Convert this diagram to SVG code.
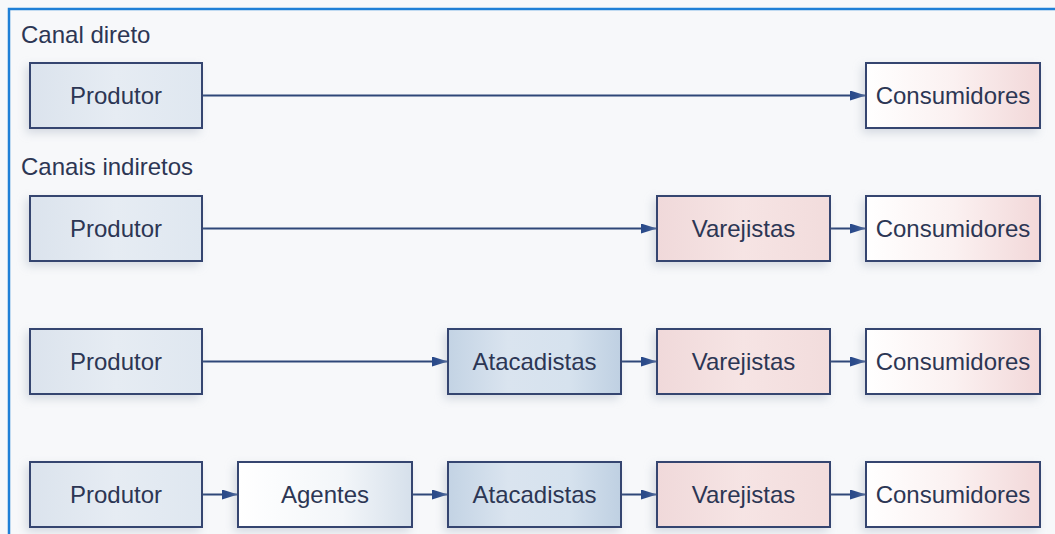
<svg xmlns="http://www.w3.org/2000/svg" width="1055" height="534" viewBox="0 0 1055 534">
<style>
.box{stroke:#34456f;stroke-width:2;}
.lbl{font-family:"Liberation Sans",Arial,sans-serif;font-size:24px;fill:#2c3654;text-anchor:middle;}
.hdr{font-family:"Liberation Sans",Arial,sans-serif;font-size:24px;fill:#2c3654;}
.conn{stroke:#2f4778;stroke-width:2;fill:none;marker-end:url(#arr);}
.prod{fill:url(#gProd);}
.agen{fill:url(#gAgen);}
.atac{fill:url(#gAtac);}
.varj{fill:url(#gVarj);}
.cons{fill:url(#gCons);}
.sh{filter:url(#shadow);}
</style>
<defs>
<marker id="arr" viewBox="0 0 16 10" refX="16" refY="5" markerWidth="16" markerHeight="10" markerUnits="userSpaceOnUse" orient="auto">
<path d="M0,0 L16,5 L0,10 Z" fill="#2a4a8a"/>
</marker>
<linearGradient id="gProd" x1="0" y1="0" x2="1" y2="0">
<stop offset="0" stop-color="#dbe3ed"/><stop offset="0.5" stop-color="#e6ecf3"/><stop offset="1" stop-color="#dfe7f0"/>
</linearGradient>
<linearGradient id="gAgen" x1="0" y1="0" x2="1" y2="0">
<stop offset="0" stop-color="#ffffff"/><stop offset="0.6" stop-color="#f3f6f9"/><stop offset="1" stop-color="#d6e0eb"/>
</linearGradient>
<linearGradient id="gAtac" x1="0" y1="0" x2="1" y2="0">
<stop offset="0" stop-color="#c3d3e4"/><stop offset="0.35" stop-color="#dae4ef"/><stop offset="0.7" stop-color="#d6e2ee"/><stop offset="1" stop-color="#bfd0e2"/>
</linearGradient>
<linearGradient id="gVarj" x1="0" y1="0" x2="1" y2="0">
<stop offset="0" stop-color="#f0d9da"/><stop offset="0.5" stop-color="#f6e4e4"/><stop offset="1" stop-color="#f2dcdc"/>
</linearGradient>
<linearGradient id="gCons" x1="0" y1="0" x2="1" y2="0">
<stop offset="0" stop-color="#ffffff"/><stop offset="0.5" stop-color="#fbf1f1"/><stop offset="1" stop-color="#f2d8d9"/>
</linearGradient>
<filter id="shadow" x="-20%" y="-30%" width="140%" height="160%">
<feDropShadow dx="-3" dy="4" stdDeviation="5" flood-color="#aab4c2" flood-opacity="0.45"/>
</filter>
</defs>
<rect x="0" y="0" width="1055" height="534" fill="#f7f8fa"/>
<path d="M9,534 L9,9 L1055,9" fill="none" stroke="#1f7fd6" stroke-width="2.5"/>
<text class="hdr" x="21" y="43">Canal direto</text>
<text class="hdr" x="21" y="175">Canais indiretos</text>

<g id="connectors">
<line class="conn" x1="202" y1="95.5" x2="866" y2="95.5"/>
<line class="conn" x1="202" y1="228.5" x2="657" y2="228.5"/>
<line class="conn" x1="830" y1="228.5" x2="866" y2="228.5"/>
<line class="conn" x1="202" y1="361.5" x2="448" y2="361.5"/>
<line class="conn" x1="621" y1="361.5" x2="657" y2="361.5"/>
<line class="conn" x1="830" y1="361.5" x2="866" y2="361.5"/>
<line class="conn" x1="202" y1="494.5" x2="238" y2="494.5"/>
<line class="conn" x1="412" y1="494.5" x2="448" y2="494.5"/>
<line class="conn" x1="621" y1="494.5" x2="657" y2="494.5"/>
<line class="conn" x1="830" y1="494.5" x2="866" y2="494.5"/>
</g>

<g id="r1-produtor"><rect class="box prod sh" x="30" y="63" width="172" height="65"/><text class="lbl" x="116" y="104">Produtor</text></g>
<g id="r1-consumidores"><rect class="box cons sh" x="866" y="63" width="174" height="65"/><text class="lbl" x="953" y="104">Consumidores</text></g>

<g id="r2-produtor"><rect class="box prod sh" x="30" y="196" width="172" height="65"/><text class="lbl" x="116" y="237">Produtor</text></g>
<g id="r2-varejistas"><rect class="box varj sh" x="657" y="196" width="173" height="65"/><text class="lbl" x="743.5" y="237">Varejistas</text></g>
<g id="r2-consumidores"><rect class="box cons sh" x="866" y="196" width="174" height="65"/><text class="lbl" x="953" y="237">Consumidores</text></g>

<g id="r3-produtor"><rect class="box prod sh" x="30" y="329" width="172" height="65"/><text class="lbl" x="116" y="370">Produtor</text></g>
<g id="r3-atacadistas"><rect class="box atac sh" x="448" y="329" width="173" height="65"/><text class="lbl" x="534.5" y="370">Atacadistas</text></g>
<g id="r3-varejistas"><rect class="box varj sh" x="657" y="329" width="173" height="65"/><text class="lbl" x="743.5" y="370">Varejistas</text></g>
<g id="r3-consumidores"><rect class="box cons sh" x="866" y="329" width="174" height="65"/><text class="lbl" x="953" y="370">Consumidores</text></g>

<g id="r4-produtor"><rect class="box prod sh" x="30" y="462" width="172" height="65"/><text class="lbl" x="116" y="503">Produtor</text></g>
<g id="r4-agentes"><rect class="box agen sh" x="238" y="462" width="174" height="65"/><text class="lbl" x="325" y="503">Agentes</text></g>
<g id="r4-atacadistas"><rect class="box atac sh" x="448" y="462" width="173" height="65"/><text class="lbl" x="534.5" y="503">Atacadistas</text></g>
<g id="r4-varejistas"><rect class="box varj sh" x="657" y="462" width="173" height="65"/><text class="lbl" x="743.5" y="503">Varejistas</text></g>
<g id="r4-consumidores"><rect class="box cons sh" x="866" y="462" width="174" height="65"/><text class="lbl" x="953" y="503">Consumidores</text></g>
</svg>
